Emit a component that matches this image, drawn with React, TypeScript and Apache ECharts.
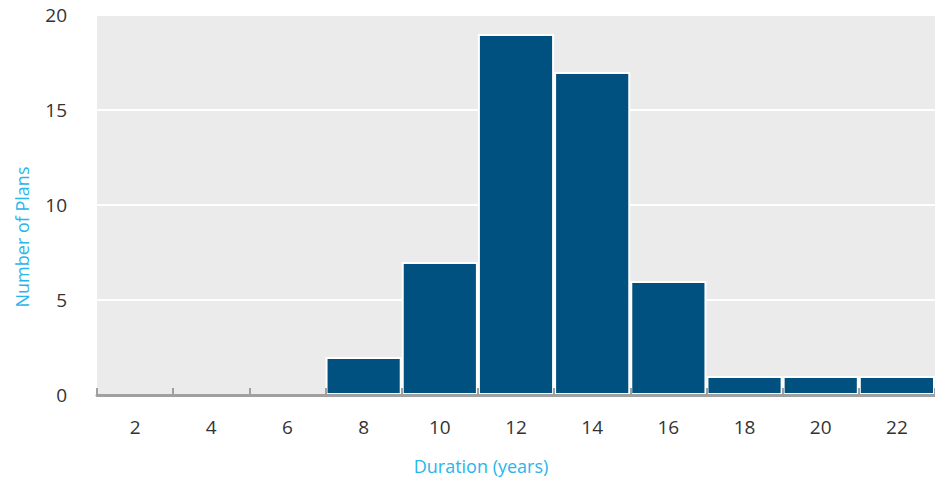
import React, { useEffect, useRef } from "react";
import * as echarts from "echarts";

const categories = ["2", "4", "6", "8", "10", "12", "14", "16", "18", "20", "22"];
const plans = [0, 0, 0, 2, 7, 19, 17, 6, 1, 1, 1];
const yTicks = { min: 0, max: 20, interval: 5 };

export default function App() {
  const ref = useRef<HTMLDivElement>(null);
  useEffect(() => {
    if (!ref.current) return;
    const chart = echarts.init(ref.current, null, { renderer: "svg" });
    const font = "'Open Sans', 'Noto Sans', sans-serif";
    chart.setOption({
      animation: false,
      grid: {
        left: 97,
        right: 0,
        top: 15,
        bottom: 90,
        show: true,
        backgroundColor: "#ebebeb",
        borderWidth: 0,
      },
      xAxis: {
        type: "category",
        data: categories,
        name: "Duration (years)",
        nameLocation: "middle",
        nameGap: 62,
        nameTextStyle: { color: "#29b5ec", fontSize: 18, fontFamily: font, padding: [0, 70, 0, 0] },
        axisLine: { show: true, lineStyle: { color: "#a0a0a0", width: 3 } },
        axisTick: { show: true, inside: true, length: 7, lineStyle: { color: "#a0a0a0", width: 2 } },
        axisLabel: { color: "#333", fontSize: 19, fontFamily: font, margin: 22 },
        z: 5,
      },
      yAxis: {
        type: "value",
        min: yTicks.min,
        max: yTicks.max,
        interval: yTicks.interval,
        name: "Number of Plans",
        nameLocation: "middle",
        nameGap: 66,
        nameTextStyle: { color: "#29b5ec", fontSize: 18, fontFamily: font, padding: [0, 64, 0, 0] },
        axisLine: { show: false },
        axisTick: { show: false },
        axisLabel: { color: "#333", fontSize: 19, fontFamily: font, margin: 30 },
        splitLine: { show: true, lineStyle: { color: "#ffffff", width: 2 } },
      },
      series: [
        {
          type: "bar",
          data: plans,
          barWidth: "100%",
          barCategoryGap: 0,
          itemStyle: { color: "#00517f", borderColor: "#ffffff", borderWidth: 2 },
        },
      ],
    });
    return () => chart.dispose();
  }, []);
  return (
    <div
      ref={ref}
      style={{ position: "fixed", left: 0, top: 0, width: 935, height: 485, background: "#fff" }}
    />
  );
}
